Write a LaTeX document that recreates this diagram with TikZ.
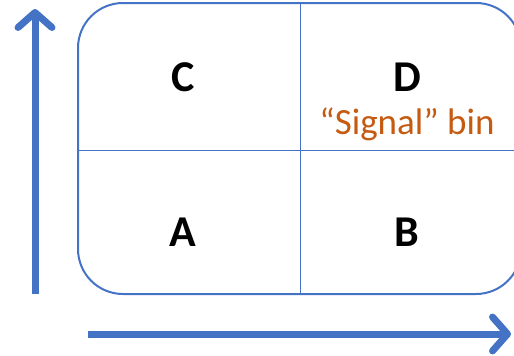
\documentclass[tikz,border=0pt]{standalone}
\usepackage{fontspec}
\setmainfont{Carlito}
\usetikzlibrary{arrows.meta}
\definecolor{axisblue}{HTML}{4472C4}
\definecolor{binorange}{HTML}{C55A11}
\begin{document}
\begin{tikzpicture}[x=1pt,y=-1pt,
  axis/.style={line width=7pt,axisblue,-{Straight Barb[round,length=15pt,width=34pt]}},
  cell/.style={font=\fontsize{44}{48}\selectfont\bfseries},
  note/.style={font=\fontsize{37}{42}\selectfont,text=binorange}]
  \useasboundingbox (0,0) rectangle (514,356);
  \clip (0,0) rectangle (514,356);
  % the plane
  \draw[axisblue,line width=2pt,rounded corners=45pt] (78,3) rectangle (521,294);
  \draw[axisblue,line width=1pt] (300,3) -- (300,294);
  \draw[axisblue,line width=1pt] (78,150) -- (521,150);
  % axes
  \coordinate (ybot) at (35,294);
  \coordinate (ytop) at (35,9);
  \coordinate (xleft) at (88,334);
  \coordinate (xright) at (511,334);
  \draw[axis] (ybot) -- (ytop);
  \draw[axis] (xleft) -- (xright);
  % bins
  \node[cell] (binC) at (183,77) {C};
  \node[cell] (binD) at (407,77) {D};
  \node[note] (signal) at (407,124) {“Signal” bin};
  \node[cell] (binA) at (183,232) {A};
  \node[cell] (binB) at (407,232) {B};
\end{tikzpicture}
\end{document}
